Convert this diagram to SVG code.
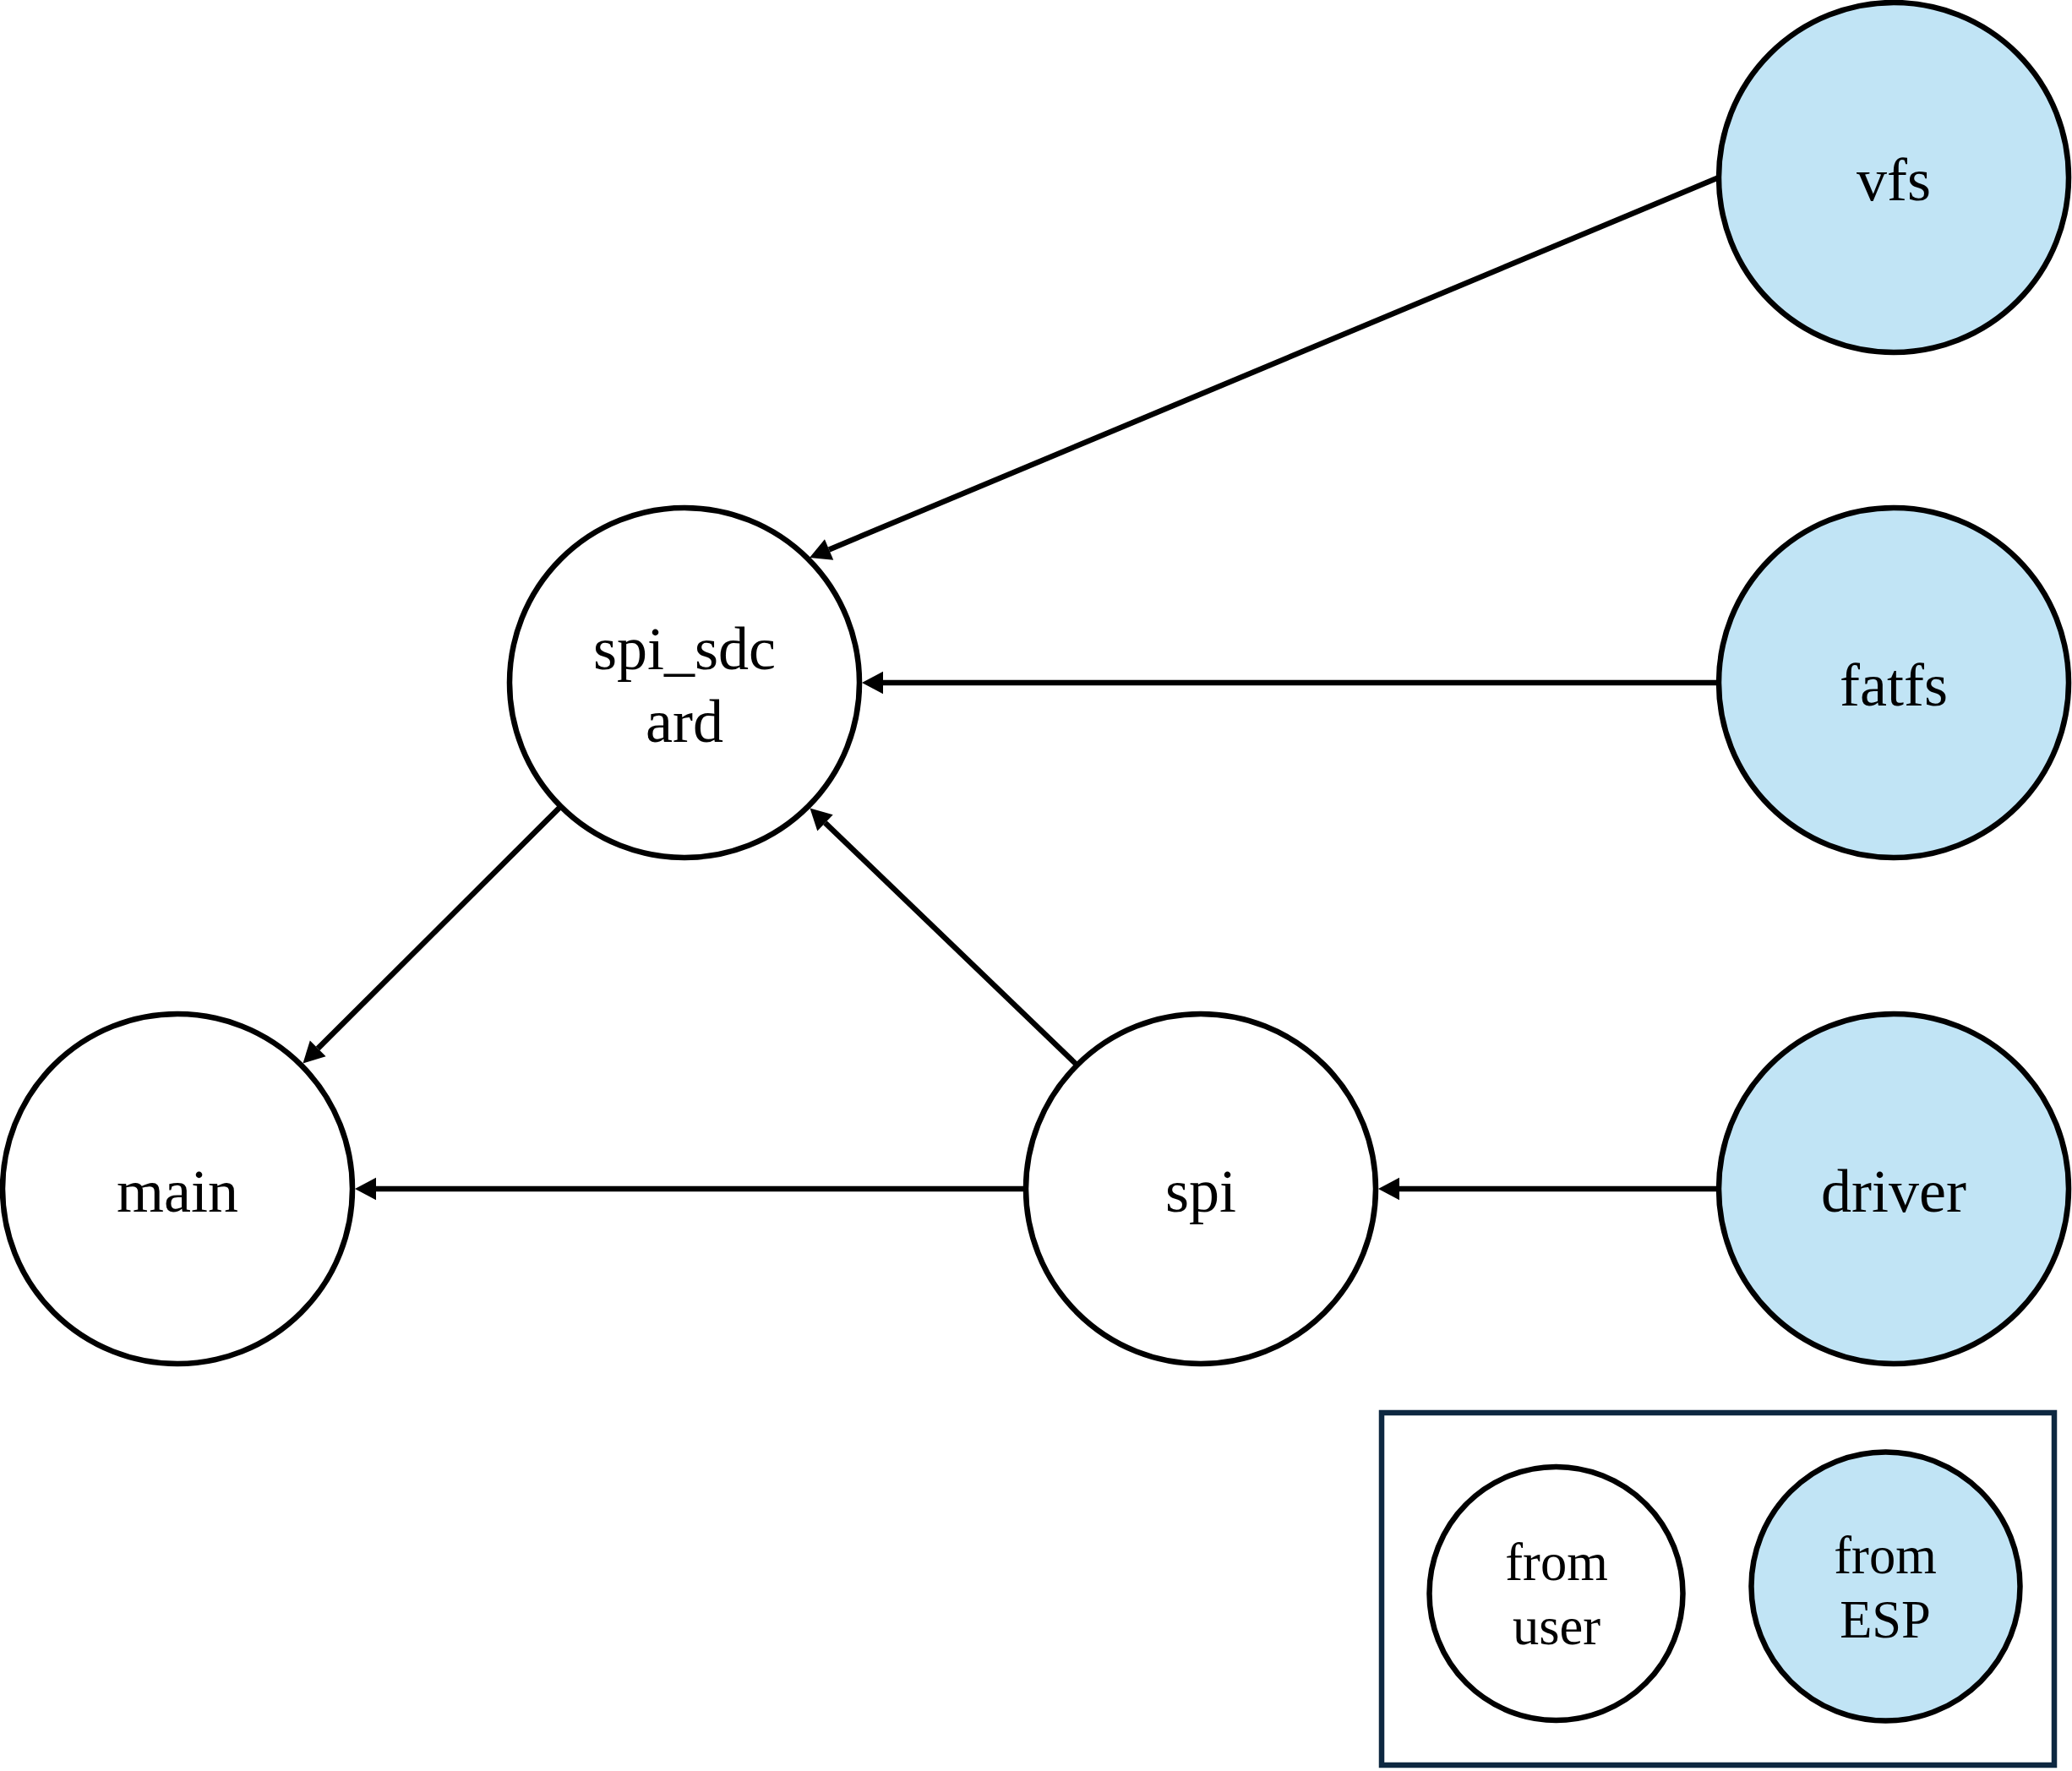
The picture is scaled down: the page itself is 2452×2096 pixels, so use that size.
<svg xmlns="http://www.w3.org/2000/svg" width="2452" height="2096" viewBox="0 0 2452 2096">
  <style>
    .node { stroke: #000; stroke-width: 6.5; fill: #fff; }
    .esp { fill: #C1E4F5; }
    .lbl { font-family: "Liberation Serif", "Times New Roman", serif; font-size: 72px; fill: #000; text-anchor: middle; }
    .leg { font-family: "Liberation Serif", "Times New Roman", serif; font-size: 62.5px; fill: #000; text-anchor: middle; }
    .edge { stroke: #000; stroke-width: 6.5; fill: none; marker-end: url(#arrow); }
  </style>
  <defs>
    <marker id="arrow" markerUnits="userSpaceOnUse" markerWidth="26" markerHeight="28" refX="0" refY="13.3" orient="auto" overflow="visible">
      <path d="M0,0 L25,13.3 L0,26.6 Z" fill="#000"/>
    </marker>
  </defs>
  <rect width="2452" height="2096" fill="#fff"/>

  <g id="connectors">
    <line class="edge" x1="2034" y1="210" x2="981.1" y2="650.4"/>
    <line class="edge" x1="2034" y1="808" x2="1045" y2="808"/>
    <line class="edge" x1="1274.6" y1="1260.6" x2="976.5" y2="973.8"/>
    <line class="edge" x1="663.6" y1="954.4" x2="376.2" y2="1240.9"/>
    <line class="edge" x1="1214" y1="1407" x2="445" y2="1407"/>
    <line class="edge" x1="2034" y1="1407" x2="1656" y2="1407"/>
  </g>

  <g id="node-vfs">
    <circle class="node esp" cx="2241" cy="210" r="207"/>
    <text class="lbl" x="2241" y="237">vfs</text>
  </g>
  <g id="node-fatfs">
    <circle class="node esp" cx="2241" cy="808" r="207"/>
    <text class="lbl" x="2241" y="835">fatfs</text>
  </g>
  <g id="node-driver">
    <circle class="node esp" cx="2241" cy="1407" r="207"/>
    <text class="lbl" x="2241" y="1434">driver</text>
  </g>
  <g id="node-spi_sdcard">
    <circle class="node" cx="810" cy="808" r="207"/>
    <text class="lbl" x="810" y="792">spi_sdc</text>
    <text class="lbl" x="810" y="878">ard</text>
  </g>
  <g id="node-main">
    <circle class="node" cx="210" cy="1407" r="207"/>
    <text class="lbl" x="210" y="1434">main</text>
  </g>
  <g id="node-spi">
    <circle class="node" cx="1421" cy="1407" r="207"/>
    <text class="lbl" x="1421" y="1434">spi</text>
  </g>

  <g id="legend">
    <rect x="1635" y="1672" width="796" height="417" fill="none" stroke="#0E2841" stroke-width="6.5"/>
    <g id="legend-user">
      <circle class="node" cx="1841.5" cy="1886" r="150"/>
      <text class="leg" x="1842" y="1870">from</text>
      <text class="leg" x="1842" y="1946">user</text>
    </g>
    <g id="legend-esp">
      <circle class="node esp" cx="2231.5" cy="1877.5" r="159"/>
      <text class="leg" x="2231" y="1862">from</text>
      <text class="leg" x="2231" y="1938">ESP</text>
    </g>
  </g>
</svg>
